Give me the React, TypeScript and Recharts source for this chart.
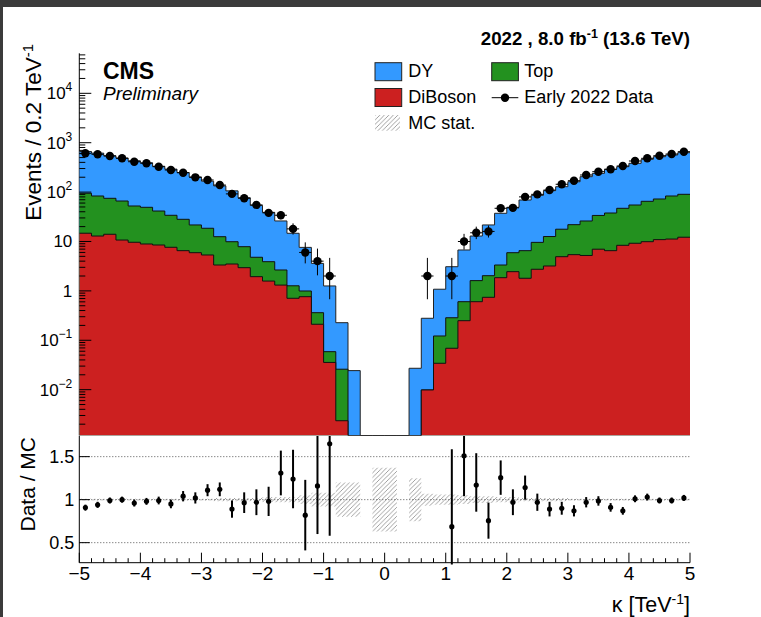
import React from 'react';
import { ComposedChart, Area, Scatter, XAxis, YAxis, ErrorBar, ReferenceLine } from 'recharts';

// ---------------- data ----------------
const BIN_CENTERS = [
  -4.9, -4.7, -4.5, -4.3, -4.1, -3.9, -3.7, -3.5, -3.3, -3.1,
  -2.9, -2.7, -2.5, -2.3, -2.1, -1.9, -1.7, -1.5, -1.3, -1.1,
  -0.9, -0.7, -0.5, -0.3, -0.1, 0.1, 0.3, 0.5, 0.7, 0.9,
  1.1, 1.3, 1.5, 1.7, 1.9, 2.1, 2.3, 2.5, 2.7, 2.9,
  3.1, 3.3, 3.5, 3.7, 3.9, 4.1, 4.3, 4.5, 4.7, 4.9,
];

const DIBOSON = [
  14.7, 12.9, 14.0, 10.7, 9.64, 8.9, 8.49, 7.63, 6.52, 5.93,
  5.33, 3.34, 3.5, 2.95, 1.94, 1.58, 1.31, 0.708, 0.763, 0.211,
  0.0356, 0.00235, 0, 0, 0, 0, 0, 0, 0.00986, 0.0342,
  0.0689, 0.249, 0.604, 0.741, 1.85, 2.45, 1.8, 2.74, 3.19, 4.92,
  5.41, 5.21, 6.98, 6.52, 8.37, 9.2, 9.91, 10.9, 11.2, 12.2,
];

const TOP = [
  79.9, 70.5, 60.9, 55.3, 42.7, 40.3, 32.9, 26.3, 21.6, 15.7,
  13.2, 9.16, 6.4, 4.9, 2.85, 2.32, 1.34, 0.56, 0.232, 0.151,
  0.0232, 0.0236, 0, 0, 0, 0, 0, 0, 0, 0.088,
  0.217, 0.355, 1.01, 1.29, 1.49, 3.48, 4.72, 6.86, 9.41, 12.8,
  16.5, 20.8, 26.7, 31.2, 38.6, 45.6, 55.2, 61.6, 72.2, 78.0,
];

const DY = [
  570, 532, 470, 424, 378, 343, 292, 258, 220, 181,
  148, 121, 96, 69, 49, 35, 23.4, 13.4, 6.6, 3.24,
  1.2, 0.201, 0.0243, 0, 0, 0, 0, 0.0271, 0.269, 0.958,
  2.8, 6.13, 11.3, 19.6, 33.9, 43.3, 62.7, 76.4, 94.4, 111,
  140, 179, 206, 252, 280, 328, 396, 449, 481, 538,
];

const DATA: (number | null)[] = [
  610, 582, 538, 483, 412, 383, 327, 280, 247, 199,
  176, 139, 92, 75, 55, 38, 34, 18, 6, 4,
  2, null, null, null, null, null, null, null, 2, null,
  2, 10, 15, 16, 47, 48, 80, 90, 110, 144,
  170, 222, 259, 290, 338, 426, 483, 546, 590, 658,
];

const RATIO: (number | null)[] = [
  0.907, 0.94, 0.99, 1.0, 0.96, 0.98, 0.99, 0.95, 1.04, 1.02,
  1.11, 1.12, 0.89, 0.965, 0.97, 0.98, 1.31, 1.24, 0.82, 1.16,
  1.65, null, null, null, null, null, null, null, null, null,
  0.686, 1.51, 1.17, 0.756, 1.256, 0.97, 1.14, 0.97, 0.89, 0.9,
  0.87, 0.97, 0.985, 0.91, 0.87, 1.01, 1.03, 0.99, 0.99, 1.02,
];

const RATIO_ERR_LO: (number | null)[] = [
  0.035, 0.035, 0.035, 0.035, 0.04, 0.04, 0.045, 0.05, 0.06, 0.065,
  0.07, 0.08, 0.1, 0.12, 0.15, 0.17, 0.26, 0.34, 0.41, 0.56,
  1.07, null, null, null, null, null, null, null, null, null,
  0.44, 0.47, 0.31, 0.21, 0.2, 0.15, 0.14, 0.1, 0.085, 0.075,
  0.065, 0.06, 0.055, 0.05, 0.045, 0.04, 0.04, 0.035, 0.035, 0.035,
];

const RATIO_ERR_HI: (number | null)[] = [
  0.035, 0.035, 0.035, 0.035, 0.04, 0.04, 0.045, 0.05, 0.06, 0.065,
  0.07, 0.08, 0.1, 0.12, 0.15, 0.17, 0.26, 0.34, 0.41, 0.91,
  2.2, null, null, null, null, null, null, null, null, null,
  0.9, 0.65, 0.37, 0.21, 0.2, 0.15, 0.14, 0.1, 0.085, 0.075,
  0.065, 0.06, 0.055, 0.05, 0.045, 0.04, 0.04, 0.035, 0.035, 0.035,
];

const MC_STAT = [
  0.01, 0.01, 0.01, 0.01, 0.01, 0.01, 0.01, 0.01, 0.01, 0.01,
  0.01, 0.02, 0.02, 0.02, 0.02, 0.03, 0.03, 0.03, 0.05, 0.08,
  0.08, 0.2, 0.2, 0, 0.37, 0.37, 0, 0.25, 0.07, 0.06,
  0.06, 0.05, 0.04, 0.04, 0.03, 0.03, 0.02, 0.02, 0.02, 0.02,
  0.01, 0.01, 0.01, 0.01, 0.01, 0.01, 0.01, 0.01, 0.01, 0.01,
];

const X_MAJOR_TICKS = [-5, -4, -3, -2, -1, 0, 1, 2, 3, 4, 5];
const Y_MAJOR_TICKS = [0.01, 0.1, 1, 10, 100, 1000, 10000];
const Y_MAJOR_LABELS: [string, string][] = [
  ['10', '\u22122'], ['10', '\u22121'], ['1', ''], ['10', ''], ['10', '2'], ['10', '3'], ['10', '4'],
];
const Y_MINOR_FACTORS = [2, 3, 4, 5, 6, 7, 8, 9];
const RATIO_TICKS = [0.5, 1, 1.5];
const RATIO_LABELS = ['0.5', '1', '1.5'];

// ---------------- styles ----------------
const FONT = '"Liberation Sans", Arial, Helvetica, sans-serif';
const C_DY = '#3399ff';
const C_TOP = '#23911f';
const C_DIB = '#cc2020';
const HATCH = '#8a8a8a';

const Y_MIN = 1.18e-3;
const Y_MAX = 6.46e4;
const R_MIN = 0.267;
const R_MAX = 1.74;
const BIN_HALF = 0.1;

const r2 = (v: number) => Math.round(v * 100) / 100;

// bin edges for step drawing
const EDGES = [...BIN_CENTERS.map((c) => r2(c - BIN_HALF)), r2(BIN_CENTERS[BIN_CENTERS.length - 1] + BIN_HALF)];

const floorY = (v: number) => Math.max(v, Y_MIN);

const STACK_ROWS = EDGES.map((x, i) => {
  const j = Math.min(i, BIN_CENTERS.length - 1);
  const d = DIBOSON[j];
  const t = d + TOP[j];
  const all = t + DY[j];
  return {
    x,
    red: floorY(d),
    green: floorY(t),
    blue: floorY(all),
    band: [1 - MC_STAT[j], 1 + MC_STAT[j]],
  };
});

const DATA_POINTS = BIN_CENTERS.map((x, i) => {
  const n = DATA[i];
  if (n == null) return null;
  return { x, y: n, ey: [Math.sqrt(n - 0.25), 1 + Math.sqrt(n + 0.75)], ex: BIN_HALF };
}).filter(Boolean) as any[];

const RATIO_POINTS = BIN_CENTERS.map((x, i) => {
  const r = RATIO[i];
  if (r == null) return null;
  return { x, y: r, ey: [RATIO_ERR_LO[i] as number, RATIO_ERR_HI[i] as number] };
}).filter(Boolean) as any[];

const Y_TICKS: number[] = [];
for (let e = -3; e <= 4; e++) {
  for (const f of [1, ...Y_MINOR_FACTORS]) {
    const v = f * Math.pow(10, e);
    if (v >= Y_MIN && v <= Y_MAX) Y_TICKS.push(v);
  }
}

const fmtX = (v: number) => (v < 0 ? '\u2212' + Math.abs(v) : String(v));
const isXMajor = (v: number) => X_MAJOR_TICKS.some((m) => Math.abs(m - v) < 1e-6);

const makeXTick = (majorLen: number, minorLen: number, labels: boolean) => (props: any) => {
  const { x, y, payload } = props;
  const v = payload.value;
  const major = isXMajor(v);
  return (
    <g>
      <line x1={x} y1={y} x2={x} y2={y - (major ? majorLen : minorLen)} stroke="#000" strokeWidth={1} />
      {labels && major && (
        <text x={x} y={y + 17.5} textAnchor="middle" fontSize={19} fontFamily={FONT} fill="#000">
          {fmtX(v)}
        </text>
      )}
    </g>
  );
};

const MainYTick = (props: any) => {
  const { x, y, payload } = props;
  const v = payload.value;
  const idx = Y_MAJOR_TICKS.findIndex((m) => Math.abs(m - v) / m < 1e-6);
  const major = idx >= 0;
  return (
    <g>
      <line x1={x} y1={y} x2={x + (major ? 12 : 6)} y2={y} stroke="#000" strokeWidth={1} />
      {major && (
        <text x={x - 7} y={y + 6} textAnchor="end" fontSize={17} fontFamily={FONT} fill="#000">
          <tspan>{Y_MAJOR_LABELS[idx][0]}</tspan>
          {Y_MAJOR_LABELS[idx][1] !== '' && (
            <tspan dy={-8} fontSize={12}>
              {Y_MAJOR_LABELS[idx][1]}
            </tspan>
          )}
        </text>
      )}
    </g>
  );
};

const RatioYTick = (props: any) => {
  const { x, y, payload } = props;
  const idx = RATIO_TICKS.findIndex((m) => Math.abs(m - payload.value) < 1e-6);
  return (
    <g>
      <line x1={x} y1={y} x2={x + 10.5} y2={y} stroke="#000" strokeWidth={1} />
      <text x={x - 5} y={y + 6.5} textAnchor="end" fontSize={18} fontFamily={FONT} fill="#000">
        {idx >= 0 ? RATIO_LABELS[idx] : ''}
      </text>
    </g>
  );
};

const HatchDefs = ({ id }: { id: string }) => (
  <defs>
    <pattern id={id} patternUnits="userSpaceOnUse" width={4.5} height={4.5}>
      <path d="M-1,1 L1,-1 M0,4.5 L4.5,0 M3.5,5.5 L5.5,3.5" stroke={HATCH} strokeWidth={0.8} />
    </pattern>
  </defs>
);

const MainChart = () => (
  <ComposedChart width={761} height={436} margin={{ top: 53.3, right: 71, bottom: 0.5, left: 0 }}>
    <HatchDefs id="hatchMain" />
    <XAxis
      dataKey="x"
      type="number"
      domain={[-5, 5]}
      ticks={EDGES}
      interval={0}
      tick={makeXTick(10, 5, false)}
      tickLine={false}
      tickSize={0}
      tickMargin={0}
      axisLine={{ stroke: '#000' }}
      height={0}
      allowDataOverflow
      {...({ zIndex: 50 } as any)}
    />
    <XAxis
      xAxisId="frameTop"
      orientation="top"
      type="number"
      domain={[-5, 5]}
      height={0}
      tick={false}
      tickLine={false}
      axisLine={{ stroke: '#000' }}
    />
    <YAxis
      type="number"
      scale="log"
      domain={[Y_MIN, Y_MAX]}
      ticks={Y_TICKS}
      interval={0}
      tick={MainYTick}
      tickLine={false}
      tickSize={0}
      tickMargin={0}
      axisLine={{ stroke: '#000' }}
      width={79.3}
      allowDataOverflow
      {...({ zIndex: 50 } as any)}
    />
    <YAxis
      yAxisId="frameR"
      orientation="right"
      type="number"
      domain={[0, 1]}
      width={0}
      tick={false}
      tickLine={false}
      axisLine={{ stroke: '#000' }}
    />
    <Area
      data={STACK_ROWS}
      dataKey="blue"
      type="stepAfter"
      fill={C_DY}
      fillOpacity={1}
      stroke="#222"
      strokeWidth={1}
      baseValue={Y_MIN}
      dot={false}
      activeDot={false}
      isAnimationActive={false}
    />
    <Area
      data={STACK_ROWS}
      dataKey="green"
      type="stepAfter"
      fill={C_TOP}
      fillOpacity={1}
      stroke="#111"
      strokeWidth={1}
      baseValue={Y_MIN}
      dot={false}
      activeDot={false}
      isAnimationActive={false}
    />
    <Area
      data={STACK_ROWS}
      dataKey="red"
      type="stepAfter"
      fill={C_DIB}
      fillOpacity={1}
      stroke="#111"
      strokeWidth={1}
      baseValue={Y_MIN}
      dot={false}
      activeDot={false}
      isAnimationActive={false}
    />
    <Scatter
      data={DATA_POINTS}
      dataKey="y"
      fill="#000"
      isAnimationActive={false}
      shape={(p: any) => <circle cx={p.cx} cy={p.cy} r={4.2} fill="#000" />}
    >
      <ErrorBar dataKey="ey" direction="y" width={0} stroke="#000" strokeWidth={1} />
      <ErrorBar dataKey="ex" direction="x" width={0} stroke="#000" strokeWidth={1} />
    </Scatter>

    {/* header texts */}
    <text x={690} y={45} textAnchor="end" fontSize={18.7} fontWeight="bold" fontFamily={FONT} fill="#000">
      <tspan>2022 , 8.0 fb</tspan>
      <tspan dy={-7} fontSize={12.5}>-1</tspan>
      <tspan dy={7}> (13.6 TeV)</tspan>
    </text>
    <text x={103} y={79} fontSize={23} fontWeight="bold" fontFamily={FONT} fill="#000">CMS</text>
    <text x={103} y={100} fontSize={19} fontStyle="italic" fontFamily={FONT} fill="#000">Preliminary</text>
    <text
      x={41}
      y={44}
      transform="rotate(-90 41 44)"
      textAnchor="end"
      fontSize={22.5}
      fontFamily={FONT}
      fill="#000"
    >
      <tspan>Events / 0.2 TeV</tspan>
      <tspan dy={-8} fontSize={15}>-1</tspan>
    </text>

    {/* legend */}
    <g fontFamily={FONT} fontSize={18} fill="#000">
      <rect x={375} y={62.7} width={26.7} height={18} fill={C_DY} stroke="#222" strokeWidth={1} />
      <text x={408.3} y={76.7}>DY</text>
      <rect x={375} y={88.5} width={26.7} height={18} fill={C_DIB} stroke="#222" strokeWidth={1} />
      <text x={408.3} y={103.2}>DiBoson</text>
      <rect x={375} y={115} width={25} height={15.7} fill="url(#hatchMain)" stroke="none" />
      <text x={408.3} y={129.3}>MC stat.</text>
      <rect x={491.7} y={62.7} width={26.7} height={18} fill={C_TOP} stroke="#222" strokeWidth={1} />
      <text x={524.3} y={76.7}>Top</text>
      <line x1={491.7} y1={97.7} x2={518.3} y2={97.7} stroke="#000" strokeWidth={1} />
      <circle cx={505} cy={97.7} r={4.2} fill="#000" />
      <text x={524.3} y={103.2}>Early 2022 Data</text>
    </g>
  </ComposedChart>
);

const RatioChart = () => (
  <ComposedChart width={761} height={181} margin={{ top: 0, right: 71, bottom: 0, left: 0 }}>
    <HatchDefs id="hatchRatio" />
    <XAxis
      dataKey="x"
      type="number"
      domain={[-5, 5]}
      ticks={EDGES}
      interval={0}
      tick={makeXTick(10, 4.5, true)}
      tickLine={false}
      tickSize={0}
      tickMargin={0}
      axisLine={{ stroke: '#000' }}
      height={54.3}
      allowDataOverflow
    />
    <YAxis
      type="number"
      domain={[R_MIN, R_MAX]}
      ticks={RATIO_TICKS}
      interval={0}
      tick={RatioYTick}
      tickLine={false}
      tickSize={0}
      tickMargin={0}
      axisLine={{ stroke: '#000' }}
      width={79.3}
      allowDataOverflow
    />
    <YAxis
      yAxisId="frameR"
      orientation="right"
      type="number"
      domain={[0, 1]}
      width={0}
      tick={false}
      tickLine={false}
      axisLine={{ stroke: '#000' }}
    />
    <Area
      data={STACK_ROWS}
      dataKey="band"
      type="stepAfter"
      fill="url(#hatchRatio)"
      fillOpacity={1}
      stroke="none"
      dot={false}
      activeDot={false}
      isAnimationActive={false}
    />
    {RATIO_TICKS.map((t) => (
      <ReferenceLine key={t} y={t} stroke="#555" strokeWidth={1} strokeDasharray="1 2" />
    ))}
    <Scatter
      data={RATIO_POINTS}
      dataKey="y"
      fill="#000"
      isAnimationActive={false}
      shape={(p: any) => <circle cx={p.cx} cy={p.cy} r={2.6} fill="#000" />}
    >
      <ErrorBar dataKey="ey" direction="y" width={0} stroke="#000" strokeWidth={2} />
    </Scatter>
    <text
      x={35}
      y={1}
      transform="rotate(-90 35 1)"
      textAnchor="end"
      fontSize={21}
      fontFamily={FONT}
      fill="#000"
    >
      Data / MC
    </text>
    <text x={690} y={176.3} textAnchor="end" fontSize={21.5} fontFamily={FONT} fill="#000">
      <tspan>{'\u03ba [TeV'}</tspan>
      <tspan dy={-8} fontSize={14}>-1</tspan>
      <tspan dy={8}>]</tspan>
    </text>
  </ComposedChart>
);

export default function App() {
  return (
    <div
      style={{
        position: 'absolute',
        left: 0,
        top: 0,
        width: 761,
        height: 617,
        background: '#ffffff',
        overflow: 'hidden',
        fontFamily: FONT,
      }}
    >
      <div style={{ position: 'absolute', left: 0, top: 0 }}>
        <MainChart />
      </div>
      <div style={{ position: 'absolute', left: 0, top: 436 }}>
        <RatioChart />
      </div>
      <div style={{ position: 'absolute', left: 0, top: 0, width: 761, height: 7, background: '#3b3b3b' }} />
      <div style={{ position: 'absolute', left: 0, top: 0, width: 3, height: 617, background: '#3b3b3b' }} />
    </div>
  );
}
